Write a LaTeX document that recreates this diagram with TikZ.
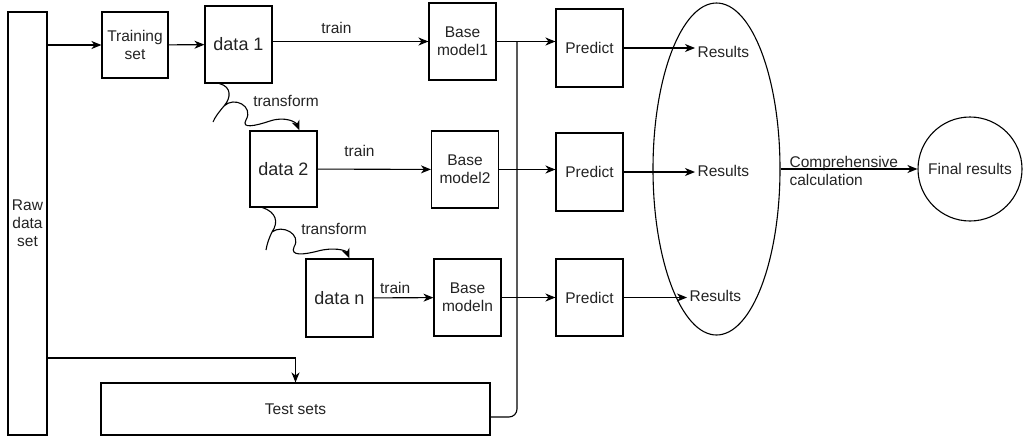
\documentclass[tikz,border=0pt]{standalone}
\usepackage{fontspec}
\setmainfont{Liberation Sans}
\definecolor{inkgray}{RGB}{35,35,35}
\usetikzlibrary{shapes,arrows,arrows.meta}
\tikzstyle{block} = [rectangle, draw, align=center, inner sep=0pt,
    minimum width=67pt, minimum height=77pt]
\tikzstyle{bigtext} = [font=\fontsize{18}{21}\selectfont]
\tikzstyle{line} = [draw, -{Stealth[length=10pt, width=8pt, inset=3pt]}]

\begin{document}
\begin{tikzpicture}[x=1pt, y=-1pt, line width=1.1pt, text=inkgray,
    font=\fontsize{15.5}{18}\selectfont]
  \useasboundingbox (0,0) rectangle (1030,437);
  \node [block, minimum width=39pt, minimum height=423pt] (raw) at (27.5,223.5) {Raw\\data\\set};
  \node [block, minimum width=66pt, minimum height=66pt] (train) at (135,45) {Training\\set};
  \path [line] (raw.east |- train) -- (train.west);
  \node [block, bigtext] (data1) at (238.5,44.5) {data 1};
  \path [line] (train) -- (data1);
  \node [block] (base1) at (462.5,41.5) {Base\\model1};
  \path [line] (data1.east |- base1) -- node[above=4pt, pos=.41]{train} (base1.west);
  \node [block, bigtext, minimum height=76pt] (data2) at (283.5,169) {data 2};
  \node [block] (base2) at (465,169.5) {Base\\model2};
  \path [line] (data2) -- node[above=9pt, pos=.37]{train} (base2);
  \node [block, bigtext, minimum height=78pt] (datan) at (339.5,298) {data n};
  \node [block] (basen) at (467.5,297.5) {Base\\modeln};
  \path [line] (datan) -- node[above=0pt, pos=.36]{train} (basen);
  % the curly transform links
  \node (tf1) at (286,101) {transform};
  \path [line] ([xshift=15pt]data1.south west) .. controls (232,87) and (231,98) .. (224,106)
      .. controls (219,112) and (215,117) .. (213,122)
      (224,106) .. controls (234,96) and (254,106) .. (246,120)
      .. controls (241,129) and (255,126) .. (270,121)
      .. controls (285,116) and (296,122) .. ([xshift=50pt]data2.north west);
  \node (tf2) at (334,229) {transform};
  \path [line] ([xshift=13pt]data2.south west) .. controls (276,212) and (279,222) .. (272,232)
      .. controls (269,238) and (267,244) .. (266,250)
      (272,232) .. controls (282,224) and (302,234) .. (294,247)
      .. controls (290,256) and (303,255) .. (318,251)
      .. controls (333,247) and (346,250) .. ([xshift=44pt]datan.north west);
  \node [block, minimum height=78pt] (pred1) at (589.5,48) {Predict};
  \node [block, minimum height=78pt] (pred2) at (589.5,172) {Predict};
  \node [block] (pred3) at (589.5,297.5) {Predict};
  \path [line] (base1.east) -- (base1.east -| pred1.west);
  \path [line] (base2.east) -- (base2.east -| pred2.west);
  \path [line] (basen.east) -- (basen.east -| pred3.west);
  \node [block, minimum width=389pt, minimum height=52pt] (test) at (295.5,409) {Test sets};
  \coordinate (split) at (0,358);
  \path [line] (raw.east |- split) -| (test.north);
  \coordinate (tap) at (517,417);
  \draw [rounded corners=8pt] (test.east |- tap) -- (tap) -- (tap |- base1.east);
  \node [ellipse, draw, inner sep=0pt, minimum width=127pt, minimum height=332pt] (pool) at (716.5,169) {};
  \node [anchor=west, inner sep=2pt] (res1) at (695,52) {Results};
  \node [anchor=west, inner sep=2pt] (res2) at (695,171) {Results};
  \node [anchor=west, inner sep=2pt] (res3) at (687,296) {Results};
  \path [line] (pred1.east) -- (pred1.east -| res1.west);
  \path [line] (pred2.east) -- (pred2.east -| res2.west);
  \path [line] (pred3.east) -- (pred3.east -| res3.west);
  \node [circle, draw, inner sep=0pt, minimum size=104pt] (final) at (970,169) {Final results};
  \node [anchor=west, align=left, inner sep=0pt] (calc) at (789,171) {Comprehensive\\calculation};
  \path [line] (pool.east) -- (final.west);
\end{tikzpicture}
\end{document}
